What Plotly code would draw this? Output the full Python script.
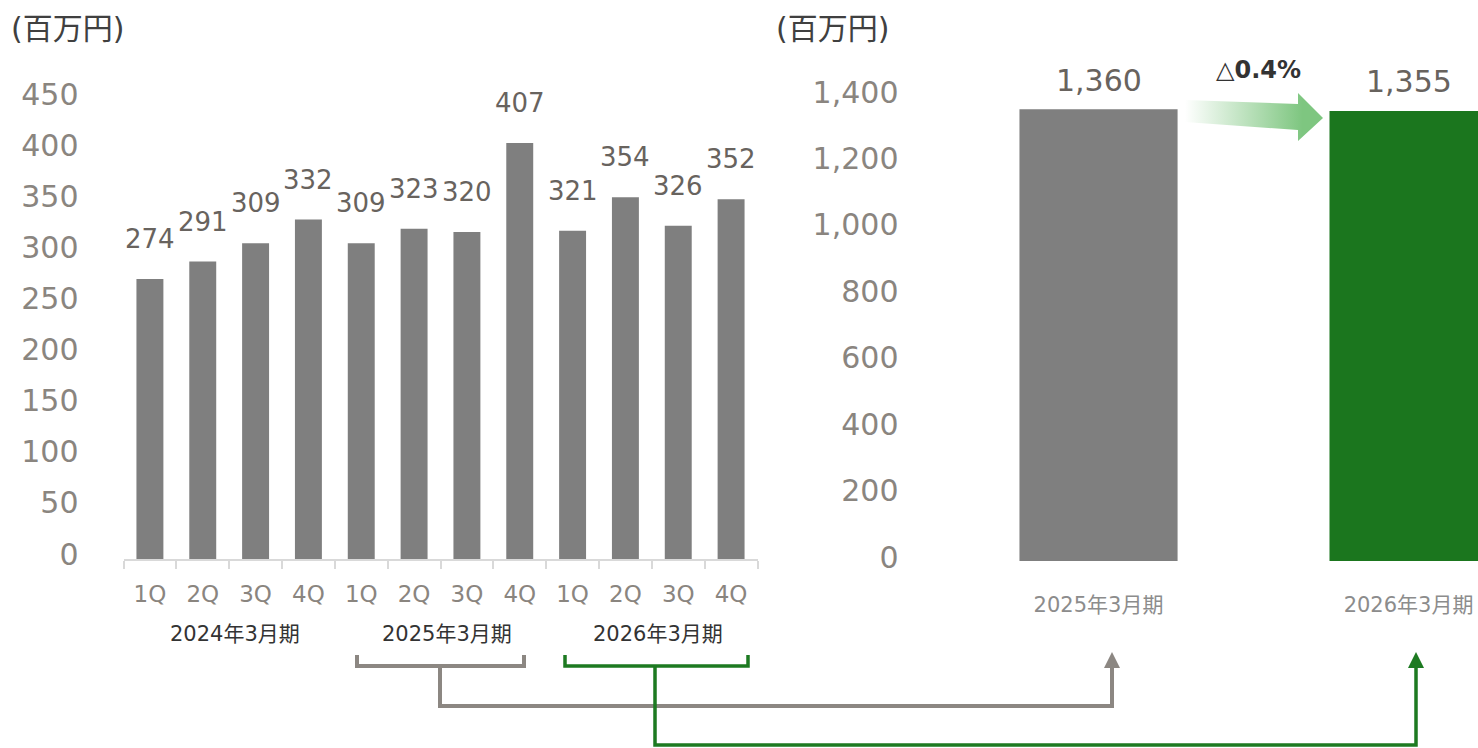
import plotly.graph_objects as go

# ---- data ----
quarters = ["1Q", "2Q", "3Q", "4Q"] * 3
fiscal_years = ["2024年3月期", "2025年3月期", "2026年3月期"]
quarterly_sales = [274, 291, 309, 332, 309, 323, 320, 407, 321, 354, 326, 352]
annual_labels = ["2025年3月期", "2026年3月期"]
annual_sales = [1360, 1355]
change_label = "△<b>0.4%</b>"
unit_label = "(百万円)"
left_ticks = [0, 50, 100, 150, 200, 250, 300, 350, 400, 450]
right_ticks = [0, 200, 400, 600, 800, 1000, 1200, 1400]

# ---- page geometry (pixels) ----
W, H = 1478, 748
FONT = "DejaVu Sans, Noto Sans CJK JP"
GRAY_BAR = "#7f7f7f"
GREEN_BAR = "#1b761e"
TICK_COLOR = "#8a857f"
VALUE_COLOR = "#68635e"
LINK_GRAY = "#8c8782"
LINK_GREEN = "#1d7a21"


def px(x):
    return x / W


def py(y):
    return 1 - y / H


xq = list(range(len(quarterly_sales)))

fig = go.Figure()

# quarterly bars
fig.add_trace(go.Bar(
    x=xq, y=quarterly_sales, marker_color=GRAY_BAR, marker_line_width=0,
    xaxis="x", yaxis="y", showlegend=False, hoverinfo="skip",
))

# annual bars
fig.add_trace(go.Bar(
    x=annual_labels, y=annual_sales, marker_color=[GRAY_BAR, GREEN_BAR],
    marker_line_width=0, xaxis="x2", yaxis="y2", showlegend=False,
    hoverinfo="skip",
))

# faded green arrow between the annual bars
arrow_x = [1185, 1298, 1298, 1323, 1298, 1298, 1185, 1185]
arrow_y = [100, 104, 93, 118, 141, 130, 122, 100]
fig.add_trace(go.Scatter(
    x=arrow_x, y=arrow_y, mode="lines", fill="toself", line_width=0,
    fillgradient=dict(
        type="horizontal",
        colorscale=[[0, "rgba(126,198,128,0)"], [0.85, "rgba(126,198,128,1)"],
                    [1, "rgba(126,198,128,1)"]],
    ),
    xaxis="x3", yaxis="y3", showlegend=False, hoverinfo="skip",
))

annotations = []

# value labels above the quarterly bars
for x, v in zip(xq, quarterly_sales):
    annotations.append(dict(
        x=x, y=v, xref="x", yref="y", text=str(v), showarrow=False,
        yanchor="middle", yshift=40,
        font=dict(family=FONT, size=26, color=VALUE_COLOR),
    ))

# value labels above the annual bars
for lab, v in zip(annual_labels, annual_sales):
    annotations.append(dict(
        x=lab, y=v, xref="x2", yref="y2", text=f"{v:,}", showarrow=False,
        yanchor="middle", yshift=29,
        font=dict(family=FONT, size=30, color=VALUE_COLOR),
    ))

# fiscal-year group labels under the quarter labels
for i, fy in enumerate(fiscal_years):
    annotations.append(dict(
        x=4 * i + 1.5, y=py(634), xref="x", yref="paper", text=fy,
        showarrow=False, xanchor="center", yanchor="middle", xshift=6,
        font=dict(family=FONT, size=21, color="#333333"),
    ))

# unit captions
for x0 in (9, 774):
    annotations.append(dict(
        x=px(x0), y=py(28), xref="paper", yref="paper", text=unit_label,
        showarrow=False, xanchor="left", yanchor="middle",
        font=dict(family=FONT, size=30, color="#404040"),
    ))

# year-on-year change
annotations.append(dict(
    x=px(1258), y=py(70), xref="paper", yref="paper", text=change_label,
    showarrow=False, xanchor="center", yanchor="middle",
    font=dict(family=FONT, size=24, color="#333333"),
))

# connectors from the quarter groups to the annual bars
shapes = []


def path(d, color, width, fill=None):
    s = dict(type="path", path=d, xref="x3", yref="y3",
             line=dict(color=color, width=width))
    if fill:
        s["fillcolor"] = fill
        s["line"] = dict(color=fill, width=0)
    return s


shapes.append(path("M357,655 L357,666 L524,666 L524,655", LINK_GRAY, 4))
shapes.append(path("M440,666 L440,706 L1112,706 L1112,664", LINK_GRAY, 4))
shapes.append(path("M1104,668 L1112,652 L1120,668 Z", LINK_GRAY, 0, LINK_GRAY))
shapes.append(path("M565,655 L565,666 L748,666 L748,655", LINK_GREEN, 3.5))
shapes.append(path("M655,666 L655,745 L1416,745 L1416,664", LINK_GREEN, 3.5))
shapes.append(path("M1408,668 L1416,652 L1424,668 Z", LINK_GREEN, 0, LINK_GREEN))

fig.update_layout(
    width=W, height=H,
    margin=dict(l=0, r=0, t=0, b=0, pad=0),
    paper_bgcolor="white", plot_bgcolor="rgba(0,0,0,0)",
    bargap=0.49,
    font=dict(family=FONT),
    annotations=annotations,
    shapes=shapes,
    xaxis=dict(
        domain=[px(123.5), px(757.5)], anchor="y", automargin=False,
        range=[-0.5, len(xq) - 0.5], tickmode="array",
        tickvals=xq, ticktext=quarters, ticks="",
        tickfont=dict(family=FONT, size=23, color=TICK_COLOR),
        ticklabelstandoff=13,
        showline=True, linecolor="#d9d9d9", linewidth=2,
        showgrid=False, zeroline=False, fixedrange=True,
        minor=dict(tickmode="array",
                   tickvals=[i - 0.5 for i in range(len(xq) + 1)],
                   ticks="outside", ticklen=8, tickcolor="#d9d9d9",
                   tickwidth=2, showgrid=False),
    ),
    yaxis=dict(
        domain=[py(559), py(99)], anchor="x", automargin=False,
        range=[0, 450], tickmode="array", tickvals=left_ticks,
        tickfont=dict(family=FONT, size=30, color=TICK_COLOR),
        ticklabelstandoff=44, ticklabelshift=-5,
        showgrid=False, zeroline=False, showline=False, ticks="",
        fixedrange=True,
    ),
    xaxis2=dict(
        domain=[px(943.5), 1], anchor="y2", automargin=False,
        type="category", range=[-0.5, 1.224],
        tickfont=dict(family=FONT, size=21, color="#8c8c8c"),
        ticklabelstandoff=29,
        showline=False, showgrid=False, zeroline=False, ticks="",
        fixedrange=True,
    ),
    yaxis2=dict(
        domain=[py(561), py(96)], anchor="x2", automargin=False,
        range=[0, 1400], tickmode="array", tickvals=right_ticks,
        tickformat=",",
        tickfont=dict(family=FONT, size=30, color=TICK_COLOR),
        ticklabelstandoff=44, ticklabelshift=-4,
        showgrid=False, zeroline=False, showline=False, ticks="",
        fixedrange=True,
    ),
    xaxis3=dict(domain=[0, 1], anchor="y3", range=[0, W], visible=False,
                fixedrange=True, automargin=False),
    yaxis3=dict(domain=[0, 1], anchor="x3", range=[H, 0], visible=False,
                fixedrange=True, automargin=False),
)

fig.write_html("out.html")
